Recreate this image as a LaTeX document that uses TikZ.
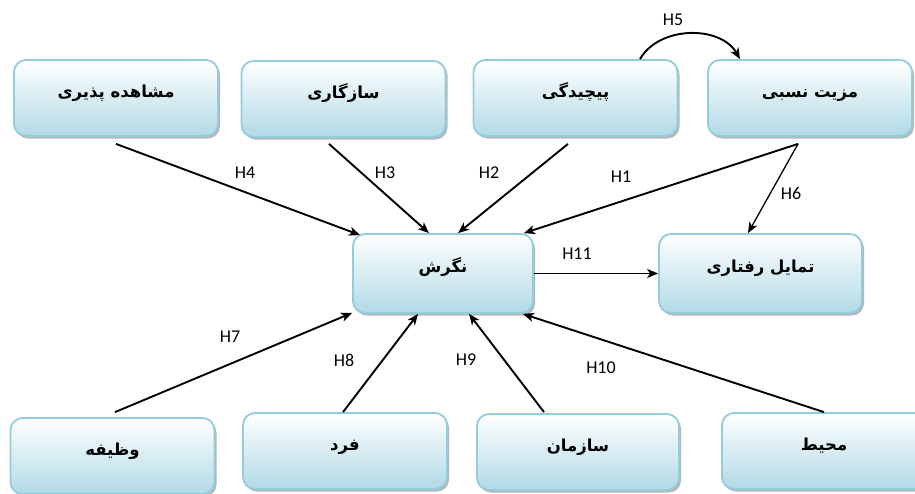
\documentclass[tikz,border=0pt]{standalone}
\usepackage{fontspec}
\setmainfont{Carlito}
\newfontfamily\fa[Script=Arabic]{DejaVu Sans}
\TeXXeTstate=1
\usetikzlibrary{arrows.meta,shadows}
\definecolor{boxedge}{HTML}{93CDDD}
\definecolor{boxbot}{HTML}{B1DAE6}
\newcommand{\fatext}[1]{\raisebox{1pt}[0pt][0pt]{\beginR #1\endR}}
\tikzset{
  box/.style={rounded corners=12pt, draw=boxedge, line width=1.8pt,
    top color=white, bottom color=boxbot,
    minimum width=204pt, minimum height=76pt, inner sep=0pt,
    drop shadow={shadow xshift=2pt, shadow yshift=-2.5pt, fill=black!40, opacity=0.7},
    font=\fa\bfseries\fontsize{16.5}{18}\selectfont},
  arr/.style={-{Stealth[length=11pt,width=9pt,inset=3pt]}, line width=1.9pt},
  lab/.style={font=\fontsize{18}{20}\selectfont, inner sep=0pt}
}
\begin{document}
\begin{tikzpicture}[x=1pt,y=-1pt]
\useasboundingbox (0,0) rectangle (915,493);
% top row
\node[box] (mp) at (116,98) {\fatext{مشاهده پذیری}};
\node[box] (sz) at (343.5,99) {\fatext{سازگاری}};
\node[box] (pc) at (575.5,98) {\fatext{پیچیدگی}};
\node[box] (mz) at (810,98) {\fatext{مزیت نسبی}};
% middle
\node[box, minimum width=180pt, minimum height=79pt] (ng) at (443,273.5) {\fatext{نگرش}};
\node[box, minimum width=203pt, minimum height=79pt] (tm) at (760.5,273.5) {\fatext{تمایل رفتاری}};
% bottom row
\node[box] (vz) at (112.5,456) {\fatext{وظیفه}};
\node[box] (fd) at (345,451) {\fatext{فرد}};
\node[box, minimum width=202pt] (sa) at (578,452) {\fatext{سازمان}};
\node[box] (mh) at (824,451) {\fatext{محیط}};
% arrows into ng from top
\draw[arr] ([yshift=-7pt]mp.south) -- ([xshift=8pt,yshift=-2pt]ng.north west);
\draw[arr] ([xshift=-14.5pt,yshift=-6pt]sz.south) -- ([xshift=-14pt]ng.north);
\draw[arr] ([xshift=-7.5pt,yshift=-7pt]pc.south) -- ([xshift=15pt]ng.north);
\draw[arr] ([xshift=-12pt,yshift=-7pt]mz.south) -- ([xshift=-10pt]ng.north east);
\draw[arr, line width=1.3pt] ([xshift=-12pt,yshift=-7pt]mz.south) -- ([xshift=-12.5pt]tm.north);
% H5 curve
\draw[arr] ([xshift=64.5pt]pc.north) to[bend left=60] ([xshift=-70pt]mz.north);
% H11
\draw[arr] (ng.east) -- (tm.west);
% arrows into ng from bottom
\draw[arr] ([xshift=2.5pt,yshift=5pt]vz.north) -- ([yshift=1pt]ng.south west);
\draw[arr] ([xshift=-2pt]fd.north) -- ([xshift=-25pt]ng.south);
\draw[arr] ([xshift=-34pt,yshift=1pt]sa.north) -- ([xshift=26pt]ng.south);
\draw[arr] (mh.north) -- ([xshift=-11pt]ng.south east);
% labels
\node[lab] (h1) at (621,177) {H1};
\node[lab] (h2) at (489,173) {H2};
\node[lab] (h3) at (385,173) {H3};
\node[lab] (h4) at (245,173) {H4};
\node[lab] (h5) at (673,20) {H5};
\node[lab] (h6) at (791,193) {H6};
\node[lab] (h7) at (230,337) {H7};
\node[lab] (h8) at (344,360) {H8};
\node[lab] (h9) at (466,360) {H9};
\node[lab] (h10) at (601,368) {H10};
\node[lab] (h11) at (577,254) {H11};
\end{tikzpicture}
\end{document}
